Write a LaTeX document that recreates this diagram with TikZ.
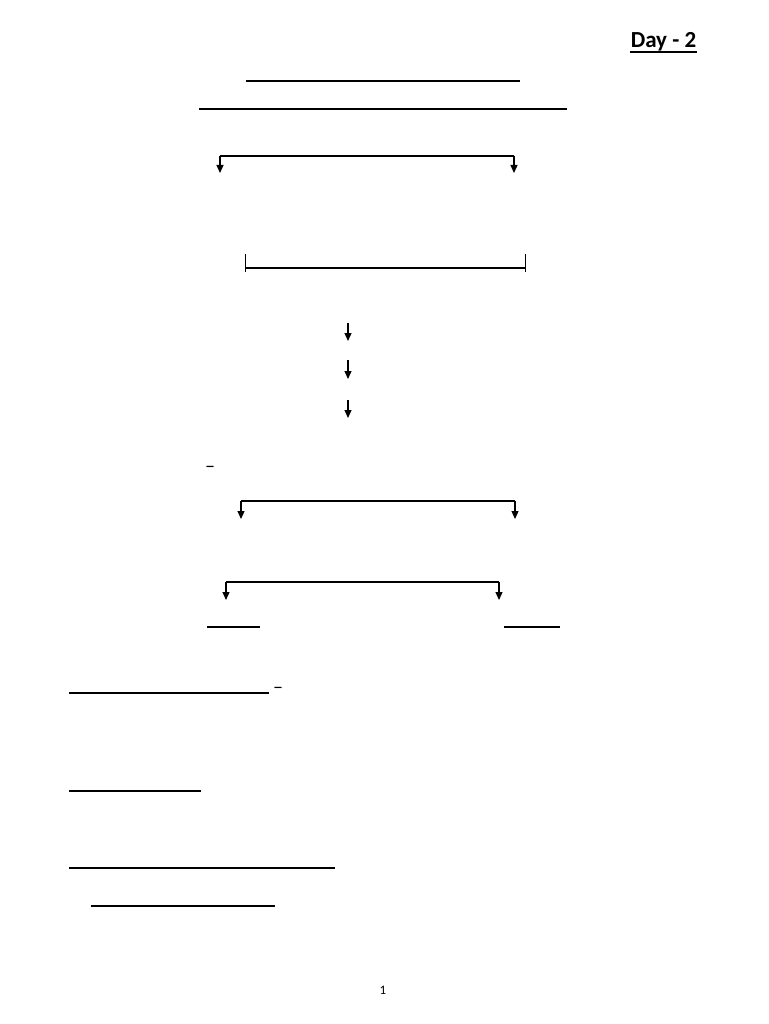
\documentclass[tikz,border=0pt]{standalone}
\usepackage{fontspec}
\setmainfont{Carlito}
\usetikzlibrary{arrows.meta}
\tikzset{
  rule/.style={line width=1.8pt, line cap=butt},
  conn/.style={line width=1.2pt},
  arr/.style={line width=1.2pt, -{Triangle[width=7pt,length=8pt]}},
  lbl/.style={inner sep=0pt, font=\fontsize{20}{22}\selectfont}
}
\begin{document}
\begin{tikzpicture}[x=1pt,y=-1pt]
\useasboundingbox (0,0) rectangle (768,1024);
% title
\node[inner sep=0pt, anchor=base, font=\fontsize{23}{27}\selectfont\bfseries] (day) at (663.5,48) {Day - 2};
\coordinate (ula) at (630,52.5); \coordinate (ulb) at (697,52.5);
\draw[line width=2pt] (ula) -- (ulb);
% heading rules
\coordinate (h1a) at (246,81); \coordinate (h1b) at (520,81);
\coordinate (h2a) at (199,109); \coordinate (h2b) at (567,109);
\draw[rule] (h1a) -- (h1b);
\draw[rule] (h2a) -- (h2b);
% bracket 1
\coordinate (b1l) at (220,156); \coordinate (b1r) at (514,156);
\coordinate (b1la) at (220,173); \coordinate (b1ra) at (514,173);
\draw[conn] (b1l) -- (b1r);
\draw[arr] (b1l) -- (b1la);
\draw[arr] (b1r) -- (b1ra);
% bracket 2 (no arrows)
\coordinate (b2l) at (245,268); \coordinate (b2r) at (525,268);
\coordinate (b2lt) at (245,254); \coordinate (b2rt) at (525,254);
\coordinate (b2lb) at (245,272); \coordinate (b2rb) at (525,272);
\draw[line width=1pt] (b2lt) -- (b2lb) (b2rt) -- (b2rb);
\draw[conn] (b2l) -- (b2r);
% chain arrows
\coordinate (c1a) at (348,323); \coordinate (c1b) at (348,341);
\coordinate (c2a) at (348,360); \coordinate (c2b) at (348,379);
\coordinate (c3a) at (348,400); \coordinate (c3b) at (348,418);
\draw[arr] (c1a) -- (c1b);
\draw[arr] (c2a) -- (c2b);
\draw[arr] (c3a) -- (c3b);
% dash
\node[lbl] (d1) at (210,469) {–};
% bracket 3
\coordinate (b3l) at (241,501); \coordinate (b3r) at (515,501);
\coordinate (b3la) at (241,519); \coordinate (b3ra) at (515,519);
\draw[conn] (b3l) -- (b3r);
\draw[arr] (b3l) -- (b3la);
\draw[arr] (b3r) -- (b3ra);
% bracket 4
\coordinate (b4l) at (226,582); \coordinate (b4r) at (499,582);
\coordinate (b4la) at (226,600); \coordinate (b4ra) at (499,600);
\draw[conn] (b4l) -- (b4r);
\draw[arr] (b4l) -- (b4la);
\draw[arr] (b4r) -- (b4ra);
% short rules
\coordinate (s1a) at (207,627); \coordinate (s1b) at (260,627);
\coordinate (s2a) at (504,627); \coordinate (s2b) at (560,627);
\draw[conn] (s1a) -- (s1b);
\draw[conn] (s2a) -- (s2b);
% lower rules
\coordinate (l1a) at (69,693); \coordinate (l1b) at (269,693);
\draw[rule] (l1a) -- (l1b);
\node[lbl] (d2) at (278,690) {–};
\coordinate (l2a) at (69,791); \coordinate (l2b) at (201,791);
\draw[conn] (l2a) -- (l2b);
\coordinate (l3a) at (69,868); \coordinate (l3b) at (335,868);
\draw[conn] (l3a) -- (l3b);
\coordinate (l4a) at (91,906); \coordinate (l4b) at (275,906);
\draw[conn] (l4a) -- (l4b);
% page number
\node[inner sep=0pt, font=\fontsize{13}{15}\selectfont] (pg) at (383,990) {1};
\end{tikzpicture}
\end{document}
